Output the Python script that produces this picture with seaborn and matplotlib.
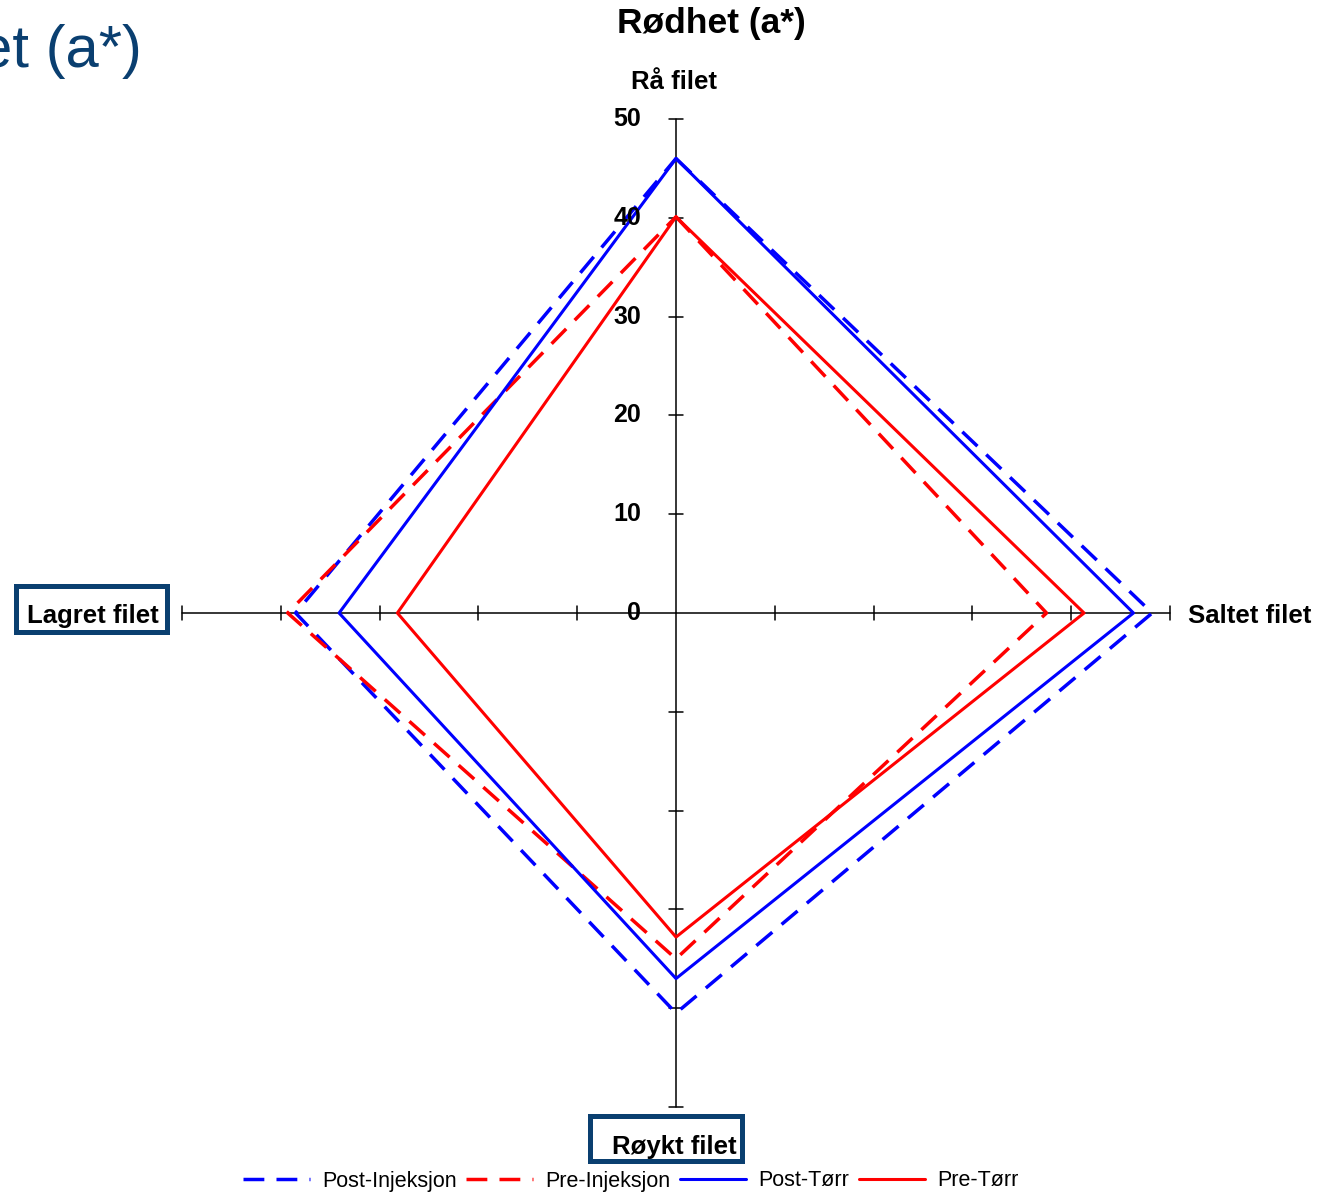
import numpy as np
import matplotlib
matplotlib.use('Agg')
import matplotlib.pyplot as plt
from matplotlib.patches import Rectangle
import seaborn as sns

# Data
categories = ['Rå filet', 'Saltet filet', 'Røykt filet', 'Lagret filet']
series_names = ['Post-Injeksjon', 'Pre-Injeksjon', 'Post-Tørr', 'Pre-Tørr']
post_injeksjon = [46.0, 48.2, 40.5, 38.5]
pre_injeksjon = [40.1, 37.5, 35.0, 39.3]
post_torr = [46.0, 46.3, 37.0, 34.1]
pre_torr = [40.1, 41.3, 32.8, 28.2]
tick_values = [0, 10, 20, 30, 40, 50]

sns.set_theme(style='white')
plt.rcParams['font.family'] = ['Liberation Sans', 'DejaVu Sans']
plt.rcParams['text.color'] = 'black'

W, H = 1318, 1193
CX, CY, SCALE = 676, 613, 9.88   # centre pixel, pixels per unit
NAVY = '#0a3f70'

fig = plt.figure(figsize=(W / 100, H / 100), dpi=100)
ax = fig.add_axes([0, 0, 1, 1])
ax.set_xlim(-CX / SCALE, (W - CX) / SCALE)
ax.set_ylim(-(H - CY) / SCALE, CY / SCALE)
ax.axis('off')


def fxy(px, py):
    return px / W, 1 - py / H


theta = np.arange(len(categories)) * np.pi / 2
rmax = max(tick_values)
tick_half = 0.72

# radar axes with tick marks
for th in theta:
    dx, dy = np.sin(th), np.cos(th)
    ax.plot([0, rmax * dx], [0, rmax * dy], color='black', lw=1.1, zorder=1)
    for v in tick_values[1:]:
        px, py = v * dx, v * dy
        ax.plot([px - tick_half * dy, px + tick_half * dy],
                [py - tick_half * dx, py + tick_half * dx],
                color='black', lw=1.1, zorder=1)

for v in tick_values:
    ax.text(-3.55, v, str(v), ha='right', va='center', color='black',
            fontsize=18, fontweight='bold', zorder=4)

# series
styles = [
    (post_injeksjon, 'blue', (0, (6, 3.5)), 2.5),
    (pre_injeksjon, 'red', (0, (6, 3.5)), 2.5),
    (post_torr, 'blue', '-', 2.2),
    (pre_torr, 'red', '-', 2.2),
]
th_closed = np.append(theta, theta[0])
for name, (vals, color, ls, lw) in zip(series_names, styles):
    r = np.array(vals + vals[:1])
    sns.lineplot(x=r * np.sin(th_closed), y=r * np.cos(th_closed), sort=False,
                 estimator=None, color=color, linestyle=ls, linewidth=lw,
                 label=name, ax=ax, zorder=2)

handles, labels = ax.get_legend_handles_labels()
if ax.get_legend() is not None:
    ax.get_legend().remove()
leg = fig.legend(handles, labels, loc='center', bbox_to_anchor=fxy(631, 1181), ncol=4,
                 frameon=False, fontsize=15.5, handlelength=3.1, handletextpad=0.55,
                 columnspacing=0.45)
for t in leg.get_texts():
    t.set_color('black')

# titles and category labels
fig.text(*fxy(142, 67), 'Rødhet (a*)', ha='right', va='baseline',
         fontsize=43, color=NAVY)
fig.text(*fxy(711, 33), 'Rødhet (a*)', ha='center', va='baseline',
         fontsize=25.5, fontweight='bold')
fig.text(*fxy(674, 89), categories[0], ha='center', va='baseline',
         fontsize=18.5, fontweight='bold')
fig.text(*fxy(1188, 623), categories[1], ha='left', va='baseline',
         fontsize=18.5, fontweight='bold')
fig.text(*fxy(674.5, 1154), categories[2], ha='center', va='baseline',
         fontsize=18.5, fontweight='bold', zorder=5)
fig.text(*fxy(27, 623), categories[3], ha='left', va='baseline',
         fontsize=18.5, fontweight='bold', zorder=5)

# boxes around two labels
fig.add_artist(Rectangle(fxy(15.5, 631.5), 151 / W, 46 / H, transform=fig.transFigure,
                         fc='white', ec=NAVY, lw=3.6, zorder=2))
fig.add_artist(Rectangle(fxy(589.5, 1160.5), 152 / W, 45 / H, transform=fig.transFigure,
                         fc='white', ec=NAVY, lw=3.6, zorder=2))

fig.savefig('out.png', dpi=100)
